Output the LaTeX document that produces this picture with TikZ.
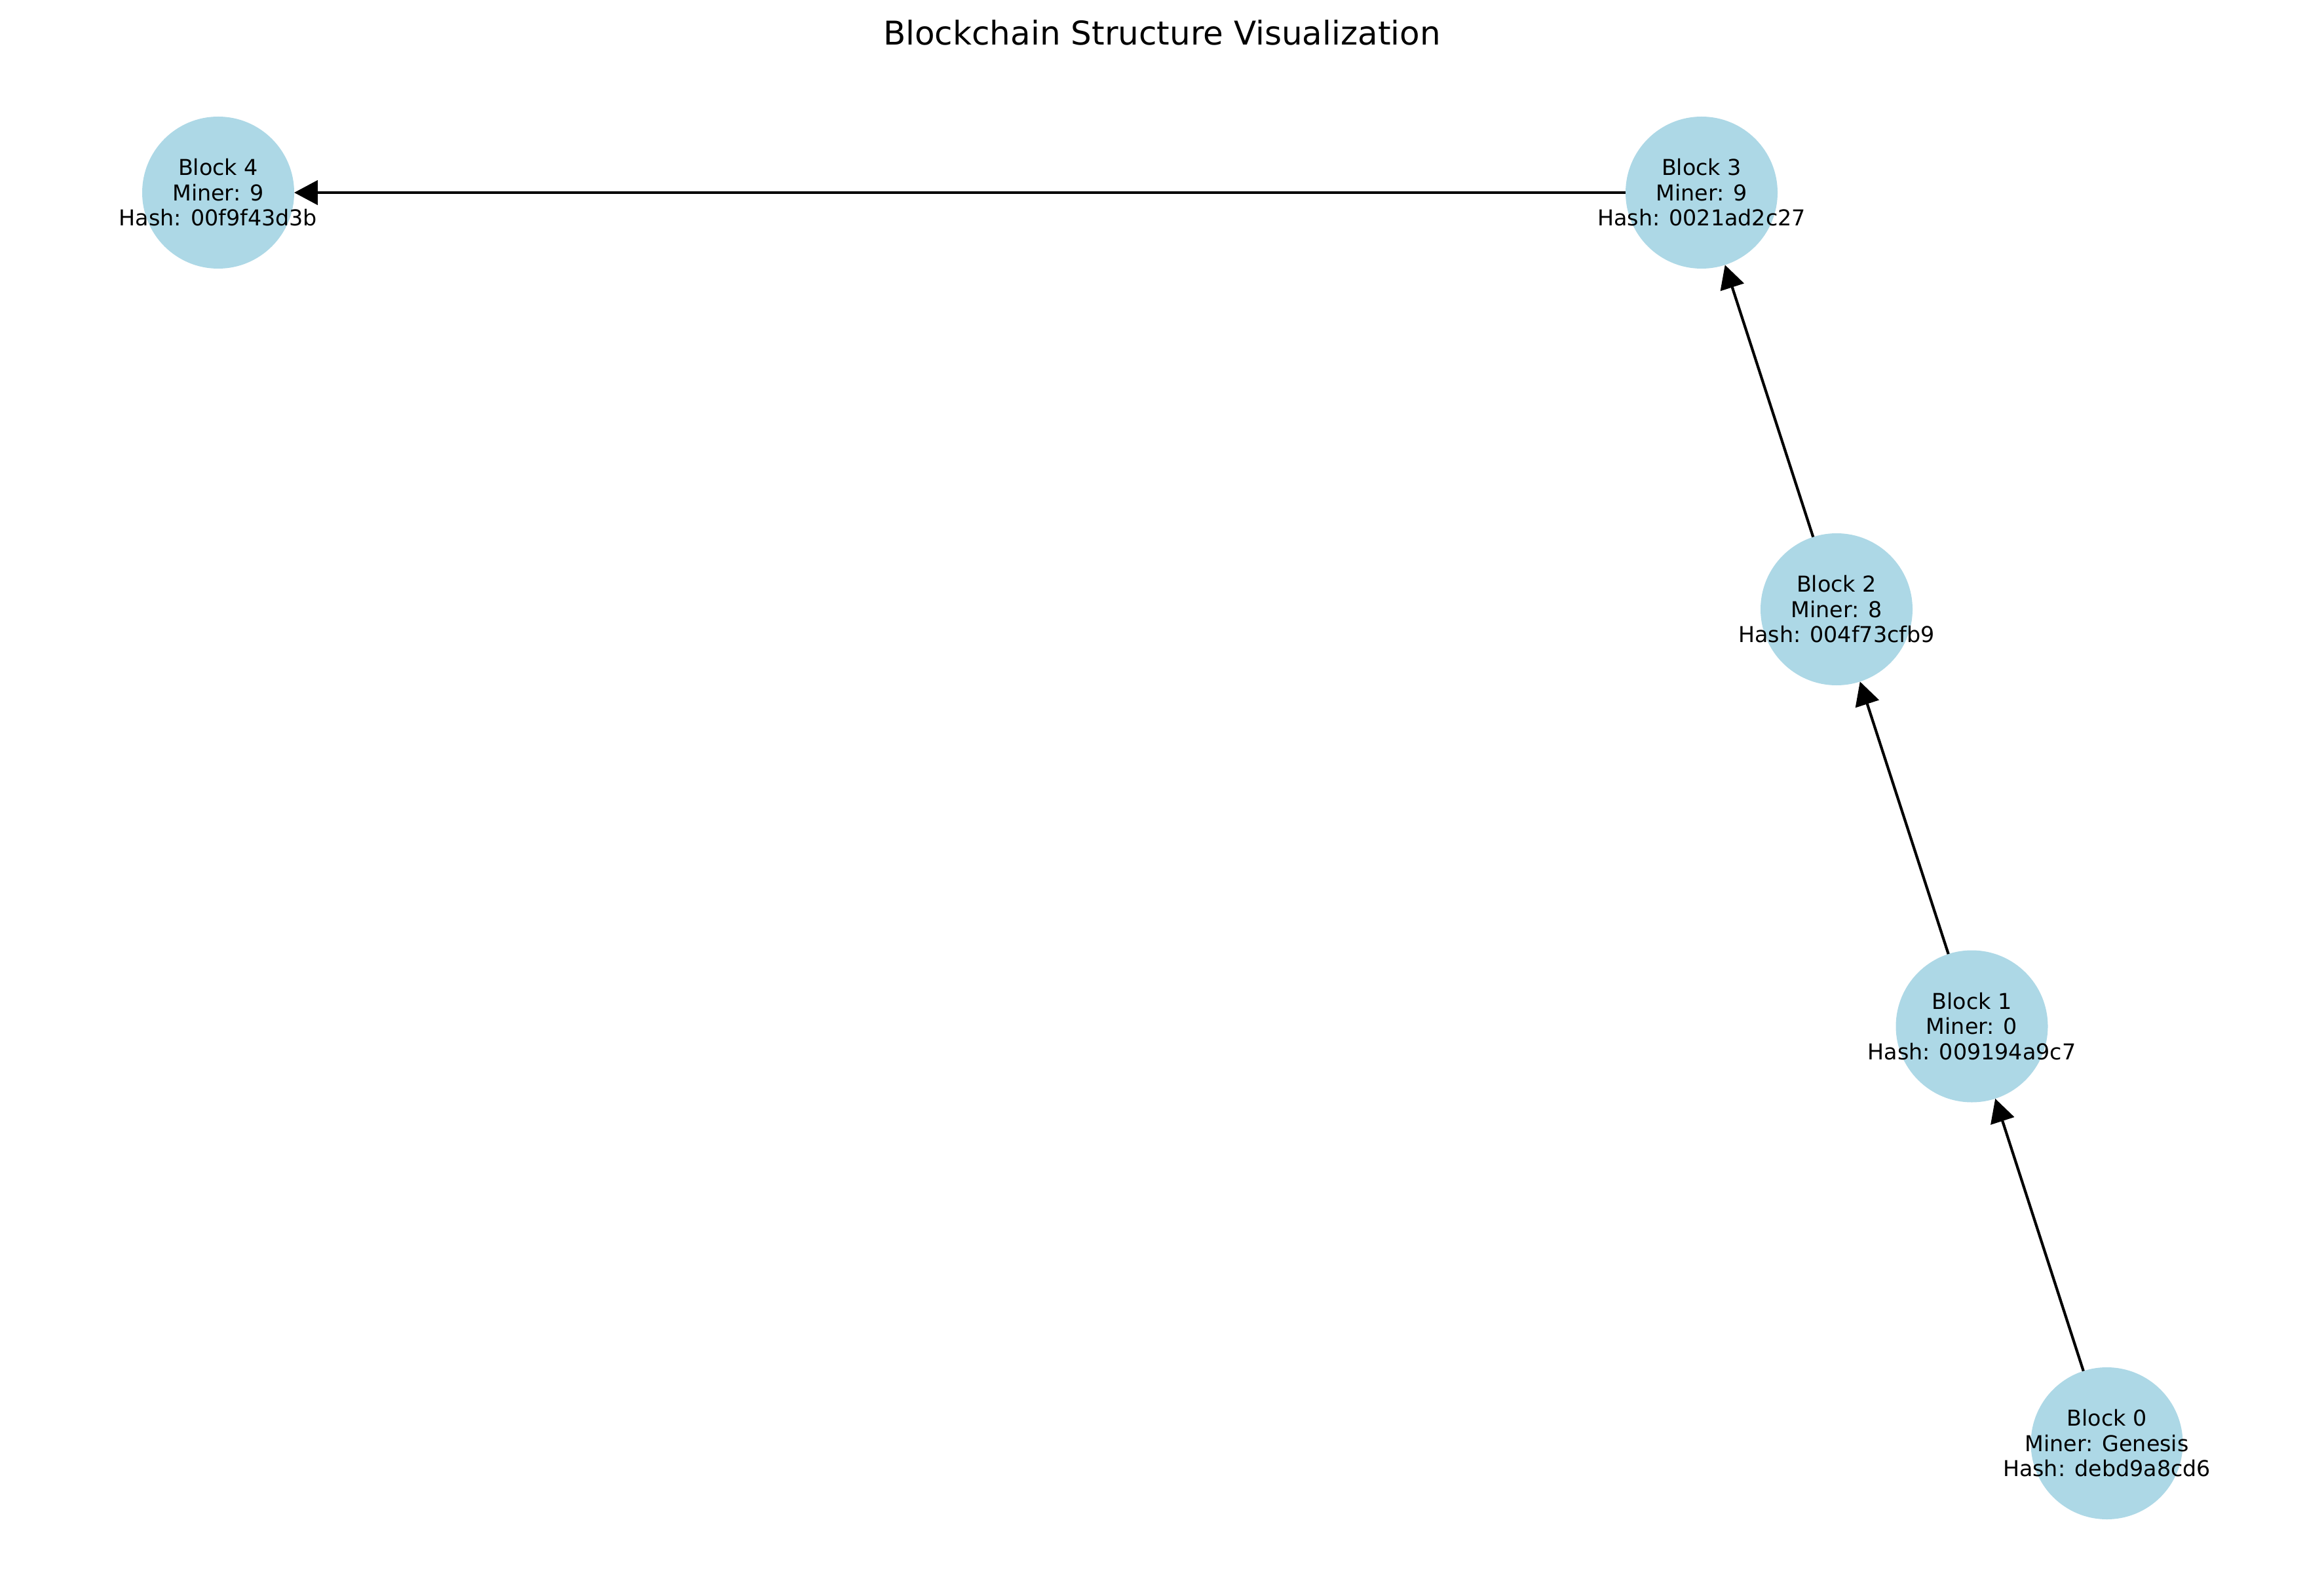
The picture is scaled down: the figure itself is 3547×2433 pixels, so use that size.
\documentclass[tikz,border=0pt]{standalone}
\usepackage{fontspec}
\setmainfont{DejaVu Sans}
\usetikzlibrary{arrows.meta}
\definecolor{nodeblue}{HTML}{ADD8E6}
\tikzset{
  blocknode/.style={circle, fill=nodeblue, draw=none, minimum size=55.68pt, inner sep=0pt, outer sep=0pt},
  blocktext/.style={align=center, inner sep=0pt, font=\fontsize{8}{9.25}\selectfont, text=black},
  chainedge/.style={-{Triangle[length=8.6pt,width=8.9pt]}, line width=1pt, black, shorten >=0pt, shorten <=0pt},
  titletext/.style={anchor=base, inner sep=0pt, font=\fontsize{12}{14}\selectfont}
}
\begin{document}
\begin{tikzpicture}[x=0.24pt, y=-0.24pt]
  \useasboundingbox (0,0) rectangle (3547,2433);
  \fill[white] (0,0) rectangle (3547,2433);
  \node[titletext] (title) at (1773.5,69) {Blockchain Structure Visualization};
  \node[blocknode, label={[blocktext]center:Block 0\\Miner: Genesis\\Hash: debd9a8cd6}] (b0) at (3215.5,2203) {};
  \node[blocknode, label={[blocktext]center:Block 1\\Miner: 0\\Hash: 009194a9c7}] (b1) at (3009.5,1566.5) {};
  \node[blocknode, label={[blocktext]center:Block 2\\Miner: 8\\Hash: 004f73cfb9}] (b2) at (2803,930) {};
  \node[blocknode, label={[blocktext]center:Block 3\\Miner: 9\\Hash: 0021ad2c27}] (b3) at (2597,294) {};
  \node[blocknode, label={[blocktext]center:Block 4\\Miner: 9\\Hash: 00f9f43d3b}] (b4) at (333,294) {};
  \draw[chainedge] (b0) -- (b1);
  \draw[chainedge] (b1) -- (b2);
  \draw[chainedge] (b2) -- (b3);
  \draw[chainedge] (b3) -- (b4);
\end{tikzpicture}
\end{document}
